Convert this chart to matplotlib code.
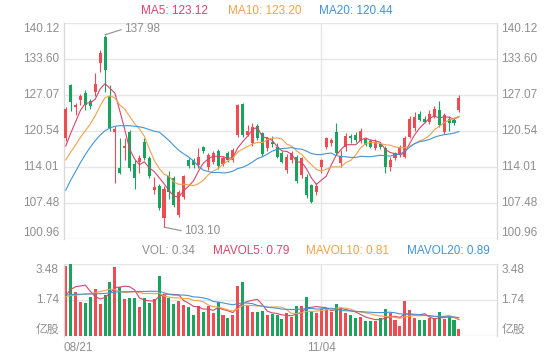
import matplotlib
matplotlib.use("Agg")
import matplotlib.pyplot as plt
import numpy as np

plt.rcParams["font.family"] = ["Liberation Sans", "Noto Sans CJK SC", "DejaVu Sans"]

# ---- data (price in yuan, volume in 亿股) ----
opens = [119.2, 128.8, 124.9, 126.2, 127.4, 125.9, 127.6, 132.8, 137.6, 126.8,
         120.3, 113.9, 117.5, 120.4, 114.6, 114.9, 118.6, 115.6, 109.8, 110.6,
         104.8, 112.4, 112.0, 105.4, 108.6, 115.3, 115.2, 114.4, 117.6, 114.0,
         115.0, 116.9, 114.6, 116.5, 115.3, 119.8, 125.4, 119.9, 118.3, 121.5,
         120.1, 117.4, 118.6, 117.7, 116.5, 113.4, 115.2, 115.8, 112.5, 112.2,
         110.7, 109.5, 114.1, 117.7, 118.3, 120.4, 114.8, 117.6, 119.6, 119.9,
         118.8, 119.0, 118.8, 117.5, 118.2, 117.4, 114.0, 115.6, 116.2, 115.9,
         119.5, 121.0, 123.6, 122.8, 122.2, 123.3, 124.3, 120.4, 122.8, 122.6,
         124.3]
highs = [124.9, 129.1, 125.6, 127.2, 128.0, 126.3, 131.0, 135.2, 137.98, 128.9,
         121.5, 119.2, 119.2, 120.7, 115.3, 116.1, 119.3, 116.0, 112.2, 110.9,
         110.5, 113.2, 112.3, 109.8, 112.6, 115.7, 115.6, 117.4, 117.9, 116.6,
         117.0, 117.3, 116.0, 116.9, 117.4, 125.4, 125.7, 121.6, 122.0, 121.8,
         120.4, 119.4, 119.6, 118.3, 116.9, 116.4, 117.0, 116.2, 115.9, 112.8,
         111.0, 111.2, 115.5, 119.5, 119.2, 121.9, 117.1, 120.2, 120.0, 120.3,
         121.0, 119.3, 119.0, 119.1, 118.6, 117.8, 115.9, 116.8, 118.0, 119.6,
         123.3, 124.0, 124.1, 123.2, 124.3, 125.0, 125.9, 123.8, 123.2, 123.0,
         127.1]
lows = [118.8, 124.2, 123.4, 125.2, 124.3, 124.6, 126.8, 131.3, 127.7, 120.6,
        111.1, 112.7, 115.3, 113.2, 110.1, 112.9, 115.3, 112.0, 109.1, 106.2,
        103.1, 108.3, 106.7, 104.9, 108.3, 113.8, 113.9, 113.8, 116.5, 113.5,
        114.6, 113.6, 114.2, 115.0, 115.0, 119.5, 119.5, 119.6, 117.8, 118.9,
        116.0, 117.0, 117.7, 115.7, 114.8, 113.0, 114.7, 111.1, 112.1, 108.4,
        107.4, 109.0, 112.9, 117.3, 117.9, 116.2, 114.0, 117.0, 118.3, 118.6,
        118.4, 117.8, 117.4, 117.1, 117.3, 112.9, 113.3, 115.2, 115.8, 115.6,
        119.2, 120.5, 122.3, 121.9, 121.8, 122.9, 121.2, 120.0, 120.5, 121.6,
        124.0]
closes = [124.6, 125.8, 125.3, 126.8, 125.3, 125.1, 129.0, 134.6, 131.6, 121.0,
          120.9, 112.9, 117.8, 113.8, 112.0, 115.6, 115.6, 112.3, 110.4, 106.6,
          110.0, 109.5, 107.2, 109.5, 112.3, 114.2, 114.3, 115.9, 116.9, 116.2,
          116.5, 114.2, 115.6, 115.3, 117.1, 125.2, 119.8, 120.6, 121.3, 119.2,
          116.3, 119.2, 118.2, 115.9, 115.0, 115.9, 116.5, 111.4, 115.6, 108.9,
          107.7, 110.6, 115.3, 119.2, 118.9, 116.5, 116.0, 119.7, 119.2, 118.9,
          120.6, 118.0, 117.7, 118.6, 117.6, 114.1, 115.3, 116.5, 117.7, 119.2,
          122.8, 123.1, 122.5, 122.2, 123.7, 124.6, 121.6, 123.4, 121.9, 121.9,
          126.5]
volumes = [3.40, 3.50, 2.14, 1.66, 1.58, 1.90, 2.27, 1.55, 1.98, 2.59,
           3.35, 2.35, 1.79, 1.82, 1.82, 1.42, 1.85, 1.58, 1.79, 2.90,
           1.98, 1.85, 1.53, 1.69, 1.50, 1.40, 1.01, 1.43, 1.18, 1.46,
           1.10, 1.66, 1.01, 0.85, 1.01, 2.43, 2.62, 1.46, 1.14, 1.18,
           1.22, 1.01, 1.05, 1.01, 0.82, 1.10, 0.93, 1.45, 1.45, 1.90,
           1.21, 1.10, 1.31, 1.31, 1.17, 1.53, 1.31, 1.10, 1.01, 0.85,
           0.93, 0.72, 0.72, 0.72, 0.85, 1.31, 1.10, 0.77, 0.48, 1.69,
           1.26, 0.89, 0.77, 0.77, 0.89, 0.85, 1.14, 0.82, 0.93, 0.77,
           0.34]

ma5 = [117.8, 120.1, 122.2, 124.3, 125.56, 125.66, 126.30, 128.16, 129.12, 128.26,
       127.42, 124.20, 120.84, 117.28, 115.48, 114.42, 114.96, 113.86, 113.18, 112.10,
       110.98, 109.76, 108.74, 108.56, 109.70, 110.54, 111.50, 113.24, 114.72, 115.50,
       115.96, 115.94, 115.88, 115.56, 115.74, 117.48, 118.60, 119.60, 120.80, 121.22,
       119.44, 119.32, 118.84, 117.76, 116.92, 116.84, 116.30, 114.94, 114.88, 113.66,
       112.02, 110.84, 111.62, 112.34, 114.34, 116.10, 117.18, 118.06, 118.06, 118.06,
       118.88, 119.28, 118.88, 118.76, 118.50, 117.20, 116.66, 116.42, 116.24, 116.56,
       118.30, 119.86, 121.06, 121.96, 122.86, 123.22, 122.92, 123.10, 123.04, 122.68,
       123.12]
ma10 = [115.3, 116.7, 118.0, 119.4, 120.6, 121.8, 123.3, 125.1, 126.6, 126.91,
        126.54, 125.25, 124.50, 123.20, 121.87, 120.92, 119.58, 117.35, 115.23, 113.79,
        112.70, 112.36, 111.30, 110.87, 110.90, 110.76, 110.63, 110.99, 111.64, 112.60,
        113.25, 113.72, 114.56, 115.14, 115.62, 116.72, 117.27, 117.74, 118.18, 118.48,
        118.46, 118.96, 119.22, 119.28, 119.07, 118.14, 117.81, 116.89, 116.32, 115.29,
        114.43, 113.57, 113.28, 113.61, 114.00, 114.06, 114.01, 114.84, 115.20, 116.20,
        117.49, 118.23, 118.47, 118.41, 118.28, 118.04, 117.97, 117.65, 117.50, 117.53,
        117.75, 118.26, 118.74, 119.10, 119.71, 120.76, 121.39, 122.08, 122.50, 122.77,
        123.20]
ma20 = [109.8, 111.6, 113.2, 114.8, 116.3, 117.6, 118.8, 119.8, 120.6, 121.1,
        121.4, 121.5, 121.5, 121.5, 121.4, 121.3, 121.1, 120.8, 120.5, 120.35,
        119.62, 118.81, 117.90, 117.04, 116.39, 115.84, 115.11, 114.17, 113.44, 113.20,
        112.98, 113.04, 112.93, 113.01, 113.26, 113.74, 113.95, 114.37, 114.91, 115.54,
        115.86, 116.34, 116.89, 117.21, 117.35, 117.43, 117.54, 117.32, 117.25, 116.89,
        116.45, 116.27, 116.25, 116.45, 116.54, 116.10, 115.91, 115.87, 115.76, 115.75,
        115.96, 115.90, 115.88, 116.01, 116.14, 116.05, 115.99, 116.25, 116.35, 116.87,
        117.62, 118.25, 118.61, 118.76, 119.00, 119.40, 119.68, 119.87, 120.00, 120.15,
        120.44]
mavol5 = [1.95, 2.25, 2.38, 2.42, 2.46, 2.16, 1.91, 1.79, 1.86, 2.06,
          2.35, 2.36, 2.41, 2.38, 2.23, 1.84, 1.74, 1.70, 1.69, 1.91,
          2.02, 2.02, 2.01, 1.99, 1.71, 1.59, 1.43, 1.41, 1.30, 1.30,
          1.24, 1.37, 1.28, 1.22, 1.13, 1.39, 1.58, 1.67, 1.73, 1.77,
          1.52, 1.20, 1.12, 1.09, 1.02, 1.00, 0.98, 1.06, 1.15, 1.37,
          1.39, 1.42, 1.39, 1.37, 1.22, 1.28, 1.33, 1.28, 1.22, 1.16,
          1.04, 0.92, 0.85, 0.79, 0.79, 0.86, 0.94, 0.95, 0.90, 1.07,
          1.06, 1.02, 1.02, 1.08, 0.92, 0.83, 0.88, 0.89, 0.93, 0.90,
          0.79]
mavol10 = [1.90, 1.95, 1.98, 2.00, 2.02, 2.05, 2.10, 2.15, 2.20, 2.26,
           2.25, 2.14, 2.10, 2.12, 2.14, 2.09, 2.05, 2.06, 2.04, 2.07,
           1.93, 1.88, 1.85, 1.84, 1.81, 1.81, 1.72, 1.71, 1.65, 1.50,
           1.42, 1.40, 1.34, 1.26, 1.21, 1.31, 1.48, 1.48, 1.47, 1.45,
           1.46, 1.39, 1.40, 1.41, 1.39, 1.26, 1.09, 1.09, 1.12, 1.19,
           1.19, 1.20, 1.23, 1.26, 1.29, 1.34, 1.37, 1.34, 1.30, 1.19,
           1.16, 1.12, 1.07, 1.01, 0.97, 0.95, 0.93, 0.90, 0.85, 0.93,
           0.96, 0.98, 0.98, 0.99, 0.99, 0.95, 0.95, 0.96, 1.00, 0.91,
           0.81]
mavol20 = [1.98, 2.00, 2.02, 2.02, 2.03, 2.03, 2.04, 2.05, 2.06, 2.08,
           2.12, 2.13, 2.14, 2.14, 2.15, 2.15, 2.15, 2.16, 2.16, 2.16,
           2.09, 2.01, 1.98, 1.98, 1.98, 1.95, 1.89, 1.88, 1.84, 1.79,
           1.67, 1.64, 1.60, 1.55, 1.51, 1.56, 1.60, 1.59, 1.56, 1.48,
           1.44, 1.40, 1.37, 1.34, 1.30, 1.29, 1.28, 1.29, 1.30, 1.32,
           1.33, 1.30, 1.31, 1.34, 1.34, 1.30, 1.23, 1.22, 1.21, 1.19,
           1.18, 1.16, 1.15, 1.13, 1.13, 1.14, 1.15, 1.12, 1.07, 1.06,
           1.06, 1.05, 1.03, 1.00, 0.98, 0.95, 0.94, 0.93, 0.92, 0.92,
           0.89]

price_ticks = [100.96, 107.48, 114.01, 120.54, 127.07, 133.60, 140.12]
vol_ticks = [0, 1.74, 3.48]
date_labels = {0: "08/21", 52: "11/04"}

# ---- styling ----
RED = "#ec4c52"
GREEN = "#1aa35c"
C5, C10, C20 = "#d8456c", "#f3a14b", "#4394d4"
GRAY = "#8f8f8f"
GRID = "#e6e6e6"
W, H = 560, 360
n_slots = 88


def axes_rect(x0, y0, x1, y1):
    return [x0 / W, 1 - y1 / H, (x1 - x0) / W, (y1 - y0) / H]


fig = plt.figure(figsize=(W / 100, H / 100), dpi=100)
ax = fig.add_axes(axes_rect(64, 23, 497, 239))
axv = fig.add_axes(axes_rect(64, 264, 497, 336))

x = np.arange(len(closes))
o = np.array(opens)
c = np.array(closes)
up = c >= o
cols = np.where(up, RED, GREEN)

for a in (ax, axv):
    a.set_xlim(-0.35, n_slots - 0.25)
    a.set_xticks([])
    a.set_yticks([])
    for s in ("top", "bottom"):
        a.spines[s].set_visible(False)
    for s in ("left", "right"):
        a.spines[s].set_color("#dadada")
        a.spines[s].set_linewidth(1)
    a.axvline(52, color=GRID, lw=1, zorder=0)

# price panel
ax.set_ylim(price_ticks[0], price_ticks[-1])
for t in price_ticks:
    ax.axhline(t, color=GRID, lw=1, zorder=0)
ax.vlines(x, lows, highs, colors=cols, lw=0.8, zorder=2)
body_lo = np.minimum(o, c)
body_h = np.maximum(np.abs(c - o), 0.15)
ax.bar(x, body_h, bottom=body_lo, width=0.62, color=cols, lw=0, zorder=3)
ax.plot(x, ma5, color=C5, lw=0.8, zorder=4)
ax.plot(x, ma10, color=C10, lw=0.8, zorder=4)
ax.plot(x, ma20, color=C20, lw=0.8, zorder=4)

imax = int(np.argmax(highs))
imin = int(np.argmin(lows))
ax.annotate(f"{highs[imax]:.2f}", xy=(imax, highs[imax]), xytext=(19, 6),
            textcoords="offset pixels", ha="left", va="center", fontsize=8.5,
            color=GRAY, arrowprops=dict(arrowstyle="-", color=GRAY, lw=0.8,
                                        shrinkA=0, shrinkB=0, relpos=(0, 0.5)))
ax.annotate(f"{lows[imin]:.2f}", xy=(imin, lows[imin]), xytext=(20, -4),
            textcoords="offset pixels", ha="left", va="center", fontsize=8.5,
            color=GRAY, arrowprops=dict(arrowstyle="-", color=GRAY, lw=0.8,
                                        shrinkA=0, shrinkB=0, relpos=(0, 0.5)))

for k, t in enumerate(price_ticks):
    va = "bottom" if k == 0 else ("top" if k == len(price_ticks) - 1 else "center")
    for xa, ha in ((-0.012, "right"), (1.01, "left")):
        ax.text(xa, t, f"{t:.2f}", transform=ax.get_yaxis_transform(),
                ha=ha, va=va, fontsize=8.5, color=GRAY)

# volume panel
axv.set_ylim(vol_ticks[0], vol_ticks[-1])
for t in vol_ticks:
    axv.axhline(t, color=GRID, lw=1, zorder=0)
axv.bar(x, volumes, width=0.62, color=cols, lw=0, zorder=2)
axv.plot(x, mavol5, color=C5, lw=0.8, zorder=3)
axv.plot(x, mavol10, color=C10, lw=0.8, zorder=3)
axv.plot(x, mavol20, color=C20, lw=0.8, zorder=3)
vlabels = ["亿股", f"{vol_ticks[1]:.2f}", f"{vol_ticks[2]:.2f}"]
for k, t in enumerate(vol_ticks):
    va = "bottom" if k == 0 else ("top" if k == len(vol_ticks) - 1 else "center")
    for xa, ha in ((-0.012, "right"), (1.01, "left")):
        axv.text(xa, t, vlabels[k], transform=axv.get_yaxis_transform(),
                 ha=ha, va=va, fontsize=8.5, color=GRAY)

for i, lab in date_labels.items():
    ha = "left" if i == 0 else "center"
    xi = -0.35 if i == 0 else i
    axv.text(xi, -0.16, lab, transform=axv.get_xaxis_transform(), ha=ha,
             va="center", fontsize=8.5, color=GRAY)

# legends
top = [(141, f"MA5: {ma5[-1]:.2f}", C5), (228, f"MA10: {ma10[-1]:.2f}", C10),
       (319, f"MA20: {ma20[-1]:.2f}", C20)]
for px, s, col in top:
    fig.text(px / W, 1 - 11 / H, s, ha="left", va="center", fontsize=8.5, color=col)
bottom = [(142, f"VOL: {volumes[-1]:.2f}", GRAY), (213, f"MAVOL5: {mavol5[-1]:.2f}", C5),
          (306, f"MAVOL10: {mavol10[-1]:.2f}", C10), (407, f"MAVOL20: {mavol20[-1]:.2f}", C20)]
for px, s, col in bottom:
    fig.text(px / W, 1 - 251 / H, s, ha="left", va="center", fontsize=8.5, color=col)

fig.savefig("out.png", dpi=100, facecolor="white")
